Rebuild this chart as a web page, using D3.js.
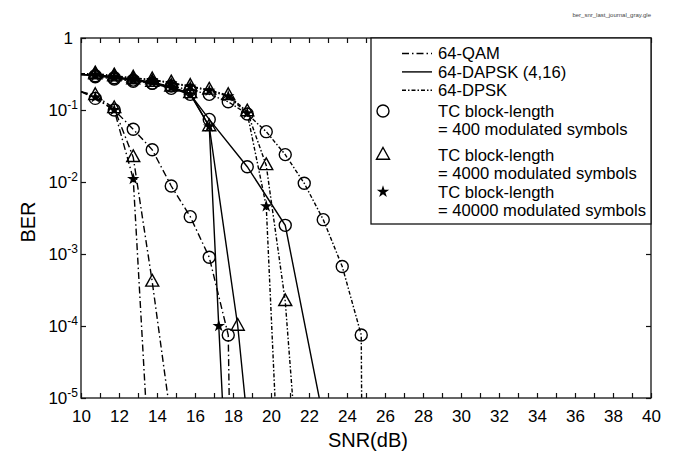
<!DOCTYPE html>
<html>
<head>
<meta charset="utf-8">
<script src="https://cdn.jsdelivr.net/npm/d3@7"></script>
<style>
  body { margin: 0; background: #fff; }
  svg { font-family: "Liberation Sans", Arial, Helvetica, sans-serif; }
  .tick line { stroke: #111; stroke-width: 1.2; }
  .axis-label { font-size: 20px; fill: #000; }
</style>
</head>
<body>
<svg id="chart"></svg>
<script>
// SNR (dB) / BER values, one pair of arrays per curve
const qam400Snr = [10.75, 11.75, 12.75, 13.75, 14.75, 15.75, 16.75, 17.75];
const qam400Ber = [0.145, 0.1, 0.054, 0.028, 0.0088, 0.0033, 0.0009, 0.000075];
const qam4000Snr = [10.75, 11.75, 12.75, 13.75];
const qam4000Ber = [0.16, 0.105, 0.022, 0.00041];
const qam40000Snr = [10.75, 11.75, 12.75];
const qam40000Ber = [0.15, 0.1, 0.011];

const dapsk400Snr = [10.75, 11.75, 12.75, 13.75, 14.75, 15.75, 16.75, 18.75, 20.75];
const dapsk400Ber = [0.3, 0.28, 0.26, 0.235, 0.2, 0.165, 0.074, 0.0163, 0.0025];
const dapsk4000Snr = [10.75, 11.75, 12.75, 13.75, 14.75, 15.75, 16.75, 18.25];
const dapsk4000Ber = [0.31, 0.29, 0.265, 0.245, 0.21, 0.17, 0.059, 0.0001];
const dapsk40000Snr = [10.75, 11.75, 12.75, 13.75, 14.75, 15.75, 16.75, 17.25];
const dapsk40000Ber = [0.3, 0.28, 0.26, 0.24, 0.205, 0.165, 0.059, 0.0001];

const dpsk400Snr = [10.75, 11.75, 12.75, 13.75, 14.75, 15.75, 16.75, 17.75, 18.75, 19.75, 20.75, 21.75, 22.75, 23.75, 24.75];
const dpsk400Ber = [0.29, 0.27, 0.25, 0.235, 0.215, 0.19, 0.165, 0.13, 0.088, 0.05, 0.024, 0.0096, 0.003, 0.00067, 0.000075];
const dpsk4000Snr = [10.75, 11.75, 12.75, 13.75, 14.75, 15.75, 16.75, 17.75, 18.75, 19.75, 20.75];
const dpsk4000Ber = [0.32, 0.3, 0.28, 0.265, 0.24, 0.215, 0.19, 0.16, 0.095, 0.017, 0.00022];
const dpsk40000Snr = [10.75, 11.75, 12.75, 13.75, 14.75, 15.75, 16.75, 17.75, 18.75, 19.75];
const dpsk40000Ber = [0.31, 0.29, 0.275, 0.26, 0.235, 0.21, 0.185, 0.155, 0.09, 0.0046];

// BER where each curve enters at the left edge (10 dB)
const qamStartBer = 0.18;
const dapskStartBer = 0.31;
const dpskStartBer = 0.32;

// SNR where each curve leaves through the bottom (BER = 1e-5), order 400 / 4000 / 40000
const qamExitSnr = [17.8, 14.58, 13.4];
const dapskExitSnr = [22.54, 18.63, 17.44];
const dpskExitSnr = [24.77, 21.14, 20.21];

const xTicks = d3.range(10, 41, 1);
const yTicks = [1e-5, 1e-4, 1e-3, 1e-2, 1e-1, 1];

const legendModulations = ['64-QAM', '64-DAPSK (4,16)', '64-DPSK'];
const legendBlocks = [
    ['TC block-length', '= 400 modulated symbols'],
    ['TC block-length', '= 4000 modulated symbols'],
    ['TC block-length', '= 40000 modulated symbols']
];

const blockMarkers = ['circle', 'triangle', 'star'];
const dashes = { qam: '7,3,1.5,3', dapsk: null, dpsk: '4,2,1.5,2' };

class BerChart {

    constructor(_config, _curves) {
        this.config = {
            parentElement: _config.parentElement,
            containerWidth: _config.containerWidth || 687,
            containerHeight: _config.containerHeight || 457,
            margin: _config.margin || { top: 38, right: 36, bottom: 59, left: 81 }
        };
        this.curves = _curves;
        this.initVis();
    }

    initVis() {
        let vis = this;

        vis.width = vis.config.containerWidth - vis.config.margin.left - vis.config.margin.right;
        vis.height = vis.config.containerHeight - vis.config.margin.top - vis.config.margin.bottom;

        vis.xScale = d3.scaleLinear().domain([10, 40]).range([0, vis.width]);
        vis.yScale = d3.scaleLog().domain([1e-5, 1]).range([vis.height, 0]);

        vis.svg = d3.select(vis.config.parentElement)
            .attr('width', vis.config.containerWidth)
            .attr('height', vis.config.containerHeight);

        // file name printed in the corner
        vis.svg.append('text')
            .attr('x', vis.config.margin.left + vis.width)
            .attr('y', 17)
            .attr('text-anchor', 'end')
            .style('font-size', '6px')
            .style('fill', '#444')
            .text('ber_snr_last_journal_gray.gle');

        vis.chart = vis.svg.append('g')
            .attr('transform', `translate(${vis.config.margin.left},${vis.config.margin.top})`);

        vis.chart.append('clipPath').attr('id', 'plot-clip')
            .append('rect').attr('width', vis.width).attr('height', vis.height);

        // inward ticks on all four sides, labels only bottom and left
        vis.xAxis = d3.axisBottom(vis.xScale)
            .tickValues(xTicks)
            .tickSize(-5)
            .tickPadding(12)
            .tickFormat(d => d % 2 === 0 ? d : '');

        vis.xAxisTop = d3.axisTop(vis.xScale).tickValues(xTicks).tickSize(-5).tickFormat('');
        vis.yAxis = d3.axisLeft(vis.yScale).tickValues(yTicks).tickSize(-5).tickFormat('');
        vis.yAxisRight = d3.axisRight(vis.yScale).tickValues(yTicks).tickSize(-5).tickFormat('');

        vis.xAxisG = vis.chart.append('g')
            .attr('class', 'axis x-axis')
            .attr('transform', `translate(0,${vis.height})`)
            .call(vis.xAxis);
        vis.xAxisG.selectAll('text').style('font-size', '17px').style('fill', '#000');

        vis.chart.append('g').attr('class', 'axis').call(vis.xAxisTop);
        vis.chart.append('g').attr('class', 'axis').call(vis.yAxis);
        vis.chart.append('g').attr('class', 'axis')
            .attr('transform', `translate(${vis.width},0)`)
            .call(vis.yAxisRight);
        vis.chart.selectAll('.axis .domain').remove();

        // log labels as 10 with a superscript exponent
        const yLabels = vis.chart.append('g')
            .selectAll('.y-label')
            .data(yTicks)
            .join('text')
            .attr('class', 'y-label')
            .attr('x', d => d === 1 ? -8 : -3)
            .attr('y', d => vis.yScale(d) + 6)
            .attr('text-anchor', 'end')
            .style('font-size', '17px');
        yLabels.filter(d => d === 1).text('1');
        yLabels.filter(d => d !== 1).each(function(d) {
            const t = d3.select(this);
            t.append('tspan').text('10');
            t.append('tspan')
                .attr('dy', -7)
                .style('font-size', '12px')
                .text(Math.round(Math.log10(d)));
        });

        vis.chart.append('rect')
            .attr('width', vis.width)
            .attr('height', vis.height)
            .attr('fill', 'none')
            .attr('stroke', '#111')
            .attr('stroke-width', 1.3);

        vis.chart.append('text')
            .attr('class', 'axis-label')
            .attr('x', vis.xScale(25.1))
            .attr('y', vis.height + 49)
            .attr('text-anchor', 'middle')
            .text('SNR(dB)');

        vis.chart.append('text')
            .attr('class', 'axis-label')
            .attr('transform', 'rotate(-90)')
            .attr('x', -184)
            .attr('y', -46)
            .attr('text-anchor', 'middle')
            .text('BER');

        vis.chartArea = vis.chart.append('g').attr('clip-path', 'url(#plot-clip)');
        vis.markerArea = vis.chart.append('g');
        vis.legendG = vis.chart.append('g');
    }

    updateVis() {
        let vis = this;
        vis.line = d3.line()
            .x(d => vis.xScale(d[0]))
            .y(d => vis.yScale(d[1]));
        vis.renderVis();
    }

    drawMarker(sel, type) {
        if (type === 'circle') {
            sel.append('circle').attr('r', 6)
                .attr('fill', 'none').attr('stroke', '#000').attr('stroke-width', 1.4);
        } else if (type === 'triangle') {
            sel.append('path').attr('d', 'M0,-7.5L6.5,4.2L-6.5,4.2Z')
                .attr('fill', 'none').attr('stroke', '#000').attr('stroke-width', 1.4);
        } else {
            sel.append('path').attr('d', d3.symbol(d3.symbolStar, 48)())
                .attr('fill', '#000');
        }
    }

    renderVis() {
        let vis = this;

        vis.chartArea.selectAll('.curve')
            .data(vis.curves)
            .join('path')
            .attr('class', 'curve')
            .attr('d', d => vis.line(d.line))
            .attr('fill', 'none')
            .attr('stroke', '#000')
            .attr('stroke-width', 1.4)
            .attr('stroke-dasharray', d => dashes[d.family]);

        vis.curves.forEach(c => {
            vis.markerArea.selectAll(null)
                .data(c.points)
                .join('g')
                .attr('transform', d => `translate(${vis.xScale(d[0])},${vis.yScale(d[1])})`)
                .each(function() { vis.drawMarker(d3.select(this), c.marker); });
        });

        // legend box shares the top and right edge of the frame
        const lg = vis.legendG.attr('transform', `translate(${vis.width - 280},0)`);
        lg.append('rect')
            .attr('width', 280).attr('height', 186)
            .attr('fill', '#fff').attr('stroke', '#111').attr('stroke-width', 1.3);

        const famKeys = ['qam', 'dapsk', 'dpsk'];
        legendModulations.forEach((name, i) => {
            const yc = 15.5 + i * 18.4;
            lg.append('line')
                .attr('x1', 31).attr('x2', 61).attr('y1', yc).attr('y2', yc)
                .attr('stroke', '#000').attr('stroke-width', 1.4)
                .attr('stroke-dasharray', dashes[famKeys[i]]);
            lg.append('text').attr('x', 67).attr('y', yc + 5.8)
                .style('font-size', '16.6px').text(name);
        });

        const blockTops = [73, 117, 153.7];
        legendBlocks.forEach((rows, i) => {
            const yc = blockTops[i];
            vis.drawMarker(lg.append('g').attr('transform', `translate(12,${yc})`), blockMarkers[i]);
            rows.forEach((r, j) => {
                lg.append('text').attr('x', 67).attr('y', yc + 5.8 + j * 18.4)
                    .style('font-size', '16.6px').text(r);
            });
        });
    }
}

// table built from the arrays above
const makeCurves = (family, startBer, exits, snrs, bers) => snrs.map((s, i) => {
    const points = s.map((v, k) => [v, bers[i][k]]);
    return {
        family: family,
        marker: blockMarkers[i],
        points: points,
        line: [[10, startBer], ...points, [exits[i], 1e-5]]
    };
});

const curves = [
    ...makeCurves('qam', qamStartBer, qamExitSnr,
        [qam400Snr, qam4000Snr, qam40000Snr], [qam400Ber, qam4000Ber, qam40000Ber]),
    ...makeCurves('dapsk', dapskStartBer, dapskExitSnr,
        [dapsk400Snr, dapsk4000Snr, dapsk40000Snr], [dapsk400Ber, dapsk4000Ber, dapsk40000Ber]),
    ...makeCurves('dpsk', dpskStartBer, dpskExitSnr,
        [dpsk400Snr, dpsk4000Snr, dpsk40000Snr], [dpsk400Ber, dpsk4000Ber, dpsk40000Ber])
];

const chart = new BerChart({ parentElement: '#chart' }, curves);
chart.updateVis();
</script>
</body>
</html>
